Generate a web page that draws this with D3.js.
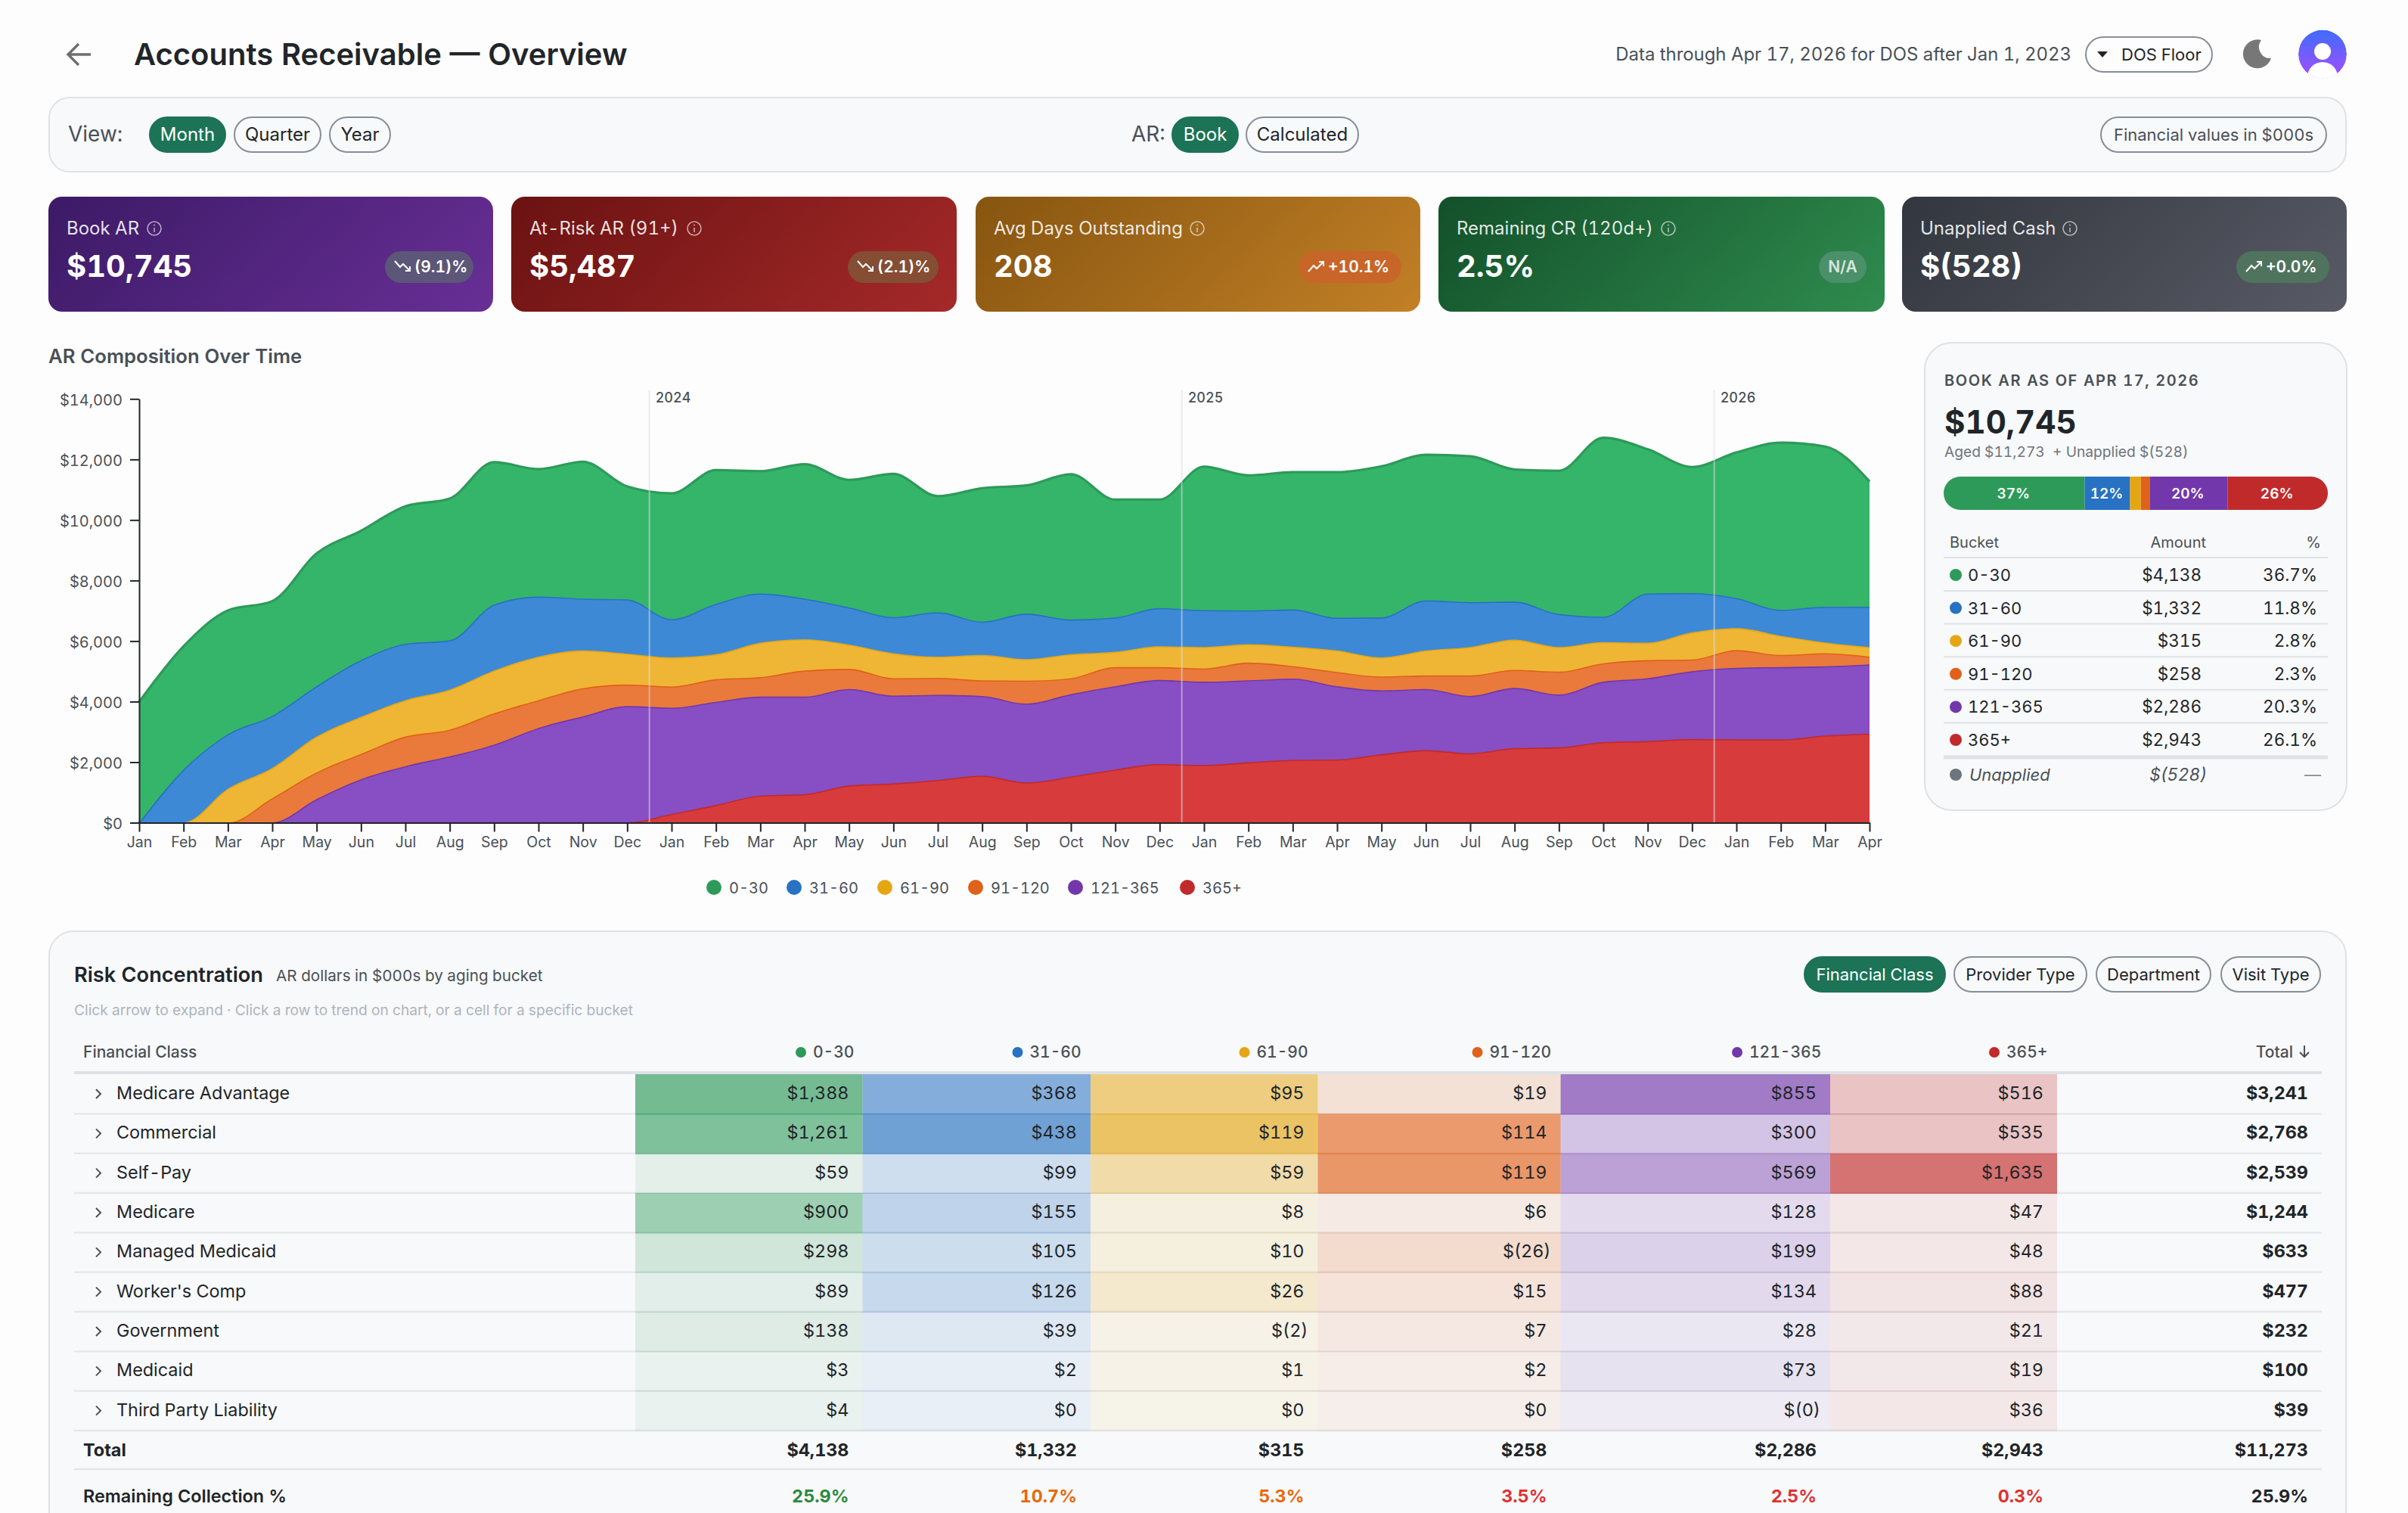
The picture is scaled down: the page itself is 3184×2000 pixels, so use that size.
<!DOCTYPE html>
<html>
<head>
<meta charset="utf-8">
<title>Accounts Receivable — Overview</title>
<script src="https://cdn.jsdelivr.net/npm/d3@7"></script>
<style>
  html, body { margin: 0; padding: 0; background: #fdfdfd; overflow: hidden; }
  svg { display: block; font-family: Inter, "Noto Sans", sans-serif; font-variant-numeric: tabular-nums; }
</style>
</head>
<body>
<div id="viz"></div>
<script>
// ---- data, $000s ----
const months = ['Jan','Feb','Mar','Apr','May','Jun','Jul','Aug','Sep','Oct','Nov','Dec',
  'Jan','Feb','Mar','Apr','May','Jun','Jul','Aug','Sep','Oct','Nov','Dec',
  'Jan','Feb','Mar','Apr','May','Jun','Jul','Aug','Sep','Oct','Nov','Dec',
  'Jan','Feb','Mar','Apr'];
const buckets = ['0-30','31-60','61-90','91-120','121-365','365+'];
const ar0to30 = [3994,4074,4085,3787,4384,4269,4545,4682,4705,4212,4522,3730,4154,4418,4040,4441,4212,4728,3833,4407,4235,4797,3890,3581,4740,4464,4533,4808,4992,4808,4820,4361,4728,5910,4763,4166,4808,5520,5290,4138];
const ar31to60 = [0,1744,1802,1721,1664,1871,1859,1630,2180,1985,1710,1790,1262,1664,1630,1343,1228,1194,1469,1102,1503,1148,1136,1262,1216,1113,1228,1079,1320,1653,1480,1262,1090,838,1630,1297,998,861,1182,1332];
const ar61to90 = [0,10,1125,998,1182,1228,1205,1320,1412,1434,1251,1021,964,826,1136,1033,803,826,700,838,712,792,505,689,712,608,643,712,631,826,941,998,815,700,574,895,723,631,356,315];
const ar91to120 = [0,0,0,803,884,838,975,884,1033,918,930,712,700,746,643,861,666,574,562,516,757,528,631,425,436,585,413,471,459,448,677,597,757,608,597,390,585,402,436,258];
const ar121to365 = [0,0,0,10,780,1434,1871,2192,2582,3133,3512,3844,3512,3408,3271,3225,3190,2903,2812,2639,2605,2720,2754,2777,2754,2708,2685,2421,2112,2020,1894,1985,1744,1997,2077,2238,2364,2387,2284,2286];
const ar365plus = [0,0,0,0,0,0,0,0,0,0,0,10,287,585,895,941,1228,1297,1412,1549,1331,1526,1756,1939,1905,1997,2077,2089,2261,2398,2295,2467,2490,2662,2697,2766,2754,2754,2880,2943];
const yTicks = [0,2000,4000,6000,8000,10000,12000,14000];
const yearMarks = ['2024','2025','2026'];

const snapshotAmounts = [4138,1332,315,258,2286,2943];
const snapshotPct = ['36.7%','11.8%','2.8%','2.3%','20.3%','26.1%'];
const snapshotBarLabels = ['37%','12%','','','20%','26%'];

const kpiLabels = ['Book AR','At-Risk AR (91+)','Avg Days Outstanding','Remaining CR (120d+)','Unapplied Cash'];
const kpiValues = ['$10,745','$5,487','208','2.5%','$(528)'];
const kpiDeltas = ['(9.1)%','(2.1)%','+10.1%','N/A','+0.0%'];
const kpiTrends = ['down','down','up','','up'];

const payers = ['Medicare Advantage','Commercial','Self-Pay','Medicare','Managed Medicaid',"Worker's Comp",'Government','Medicaid','Third Party Liability'];
const cells0to30 = [1388,1261,59,900,298,89,138,3,4];
const cells31to60 = [368,438,99,155,105,126,39,2,0];
const cells61to90 = [95,119,59,8,10,26,-2,1,0];
const cells91to120 = [19,114,119,6,-26,15,7,2,0];
const cells121to365 = [855,300,569,128,199,134,28,73,-0.3];
const cells365plus = [516,535,1635,47,48,88,21,19,36];
const payerTotals = [3241,2768,2539,1244,633,477,232,100,39];
const bucketTotals = [4138,1332,315,258,2286,2943];
const grandTotal = 11273;
const remainingPct = ['25.9%','10.7%','5.3%','3.5%','2.5%','0.3%'];
const remainingTotal = '25.9%';

// ---- styles ----
const lineColors = ['#2d9a5a','#2772c2','#e5a614','#e0611a','#7238ab','#c12a2a'];
const fillColors = ['#35b56a','#3d89d6','#efb635','#ea7a3b','#884ec3','#d83b3b'];
const remainingColors = ['#2b8a3e','#e8690c','#e8690c','#e03131','#e03131','#e03131'];
const kpiGradients = [['#3c1a66','#682f96'],['#6b1212','#a52929'],['#875510','#c28026'],['#13502a','#2f8c4e'],['#32363e','#585b65']];
const kpiBadges = ['#5c5678','#854d33','#c86528','#4a9068','#50735d'];
const INK = '#212529', GREY = '#495057', RULE = '#dee2e6', PANEL = '#f8f9fa', GREEN = '#1c7355';

const svg = d3.select('#viz').append('svg').attr('width', 3184).attr('height', 2000);
const defs = svg.append('defs');
svg.append('rect').attr('width', 3184).attr('height', 2000).attr('fill', '#fdfdfd');

function txt(x, y, s, o) {
  o = o || {};
  const t = (o.parent || svg).append('text')
    .attr('x', x).attr('y', y)
    .attr('font-size', o.size || 23.4)
    .attr('font-weight', o.weight || 400)
    .attr('fill', o.fill || INK)
    .attr('text-anchor', o.anchor || 'start')
    .text(s);
  if (o.ls) t.attr('letter-spacing', o.ls);
  if (o.italic) t.attr('font-style', 'italic');
  return t;
}

function pill(x0, x1, y0, y1, label, active, textFill, size) {
  svg.append('rect')
    .attr('x', x0 + 1).attr('y', y0 + 1)
    .attr('width', x1 - x0 - 2).attr('height', y1 - y0 - 2)
    .attr('rx', (y1 - y0) / 2 - 1)
    .attr('fill', active ? GREEN : 'none')
    .attr('stroke', active ? GREEN : '#868e96')
    .attr('stroke-width', 2);
  if (label) txt((x0 + x1) / 2, (y0 + y1) / 2 + 8, label, { size: size || 24, fill: active ? '#fff' : (textFill || INK), anchor: 'middle' });
}

function infoIcon(cx, cy) {
  const g = svg.append('g').attr('opacity', 0.6);
  g.append('circle').attr('cx', cx).attr('cy', cy).attr('r', 9).attr('fill', 'none').attr('stroke', '#fff').attr('stroke-width', 1.6);
  g.append('line').attr('x1', cx).attr('x2', cx).attr('y1', cy - 1).attr('y2', cy + 5).attr('stroke', '#fff').attr('stroke-width', 1.6);
  g.append('circle').attr('cx', cx).attr('cy', cy - 4.5).attr('r', 1).attr('fill', '#fff');
}

function trendIcon(x, y, dir) {
  const sign = dir === 'up' ? -1 : 1;
  svg.append('path')
    .attr('d', `M${x} ${y - sign * 7}L${x + 7} ${y + sign * 1}L${x + 11} ${y - sign * 3}L${x + 20} ${y + sign * 6}M${x + 14} ${y + sign * 6}H${x + 20}V${y}`)
    .attr('fill', 'none').attr('stroke', '#fff').attr('stroke-width', 2);
}

// ---- header ----
svg.append('path')
  .attr('d', 'M120 72H90M104 58L90 72L104 86')
  .attr('fill', 'none').attr('stroke', '#6e6e6e').attr('stroke-width', 3.4);
txt(177, 86, 'Accounts Receivable — Overview', { size: 40, weight: 600 });
txt(2739, 80, 'Data through Apr 17, 2026 for DOS after Jan 1, 2023', { size: 23.9, fill: GREY, anchor: 'end' });
pill(2757, 2926, 48, 96, '', false);
svg.append('path').attr('d', 'M2773 68H2787L2780 76Z').attr('fill', INK);
txt(2805, 80, 'DOS Floor', { size: 22 });
svg.append('path').attr('d', 'M2990 53A19 19 0 1 0 3003 77A15 15 0 0 1 2990 53Z').attr('fill', '#777');

const avatarGrad = defs.append('linearGradient').attr('id', 'avatar').attr('x1', 0).attr('y1', 0).attr('x2', 0).attr('y2', 1);
avatarGrad.append('stop').attr('offset', 0).attr('stop-color', '#3f6cff');
avatarGrad.append('stop').attr('offset', 1).attr('stop-color', '#a64dff');
defs.append('clipPath').attr('id', 'avatarClip').append('circle').attr('cx', 3071).attr('cy', 71.5).attr('r', 32);
const avatar = svg.append('g').attr('clip-path', 'url(#avatarClip)');
avatar.append('circle').attr('cx', 3071).attr('cy', 71.5).attr('r', 32).attr('fill', 'url(#avatar)');
avatar.append('circle').attr('cx', 3071).attr('cy', 68).attr('r', 11).attr('fill', '#fff');
avatar.append('circle').attr('cx', 3071).attr('cy', 102).attr('r', 20).attr('fill', '#fff');

// ---- filter bar ----
svg.append('rect').attr('x', 65).attr('y', 129).attr('width', 3037).attr('height', 98).attr('rx', 27)
  .attr('fill', PANEL).attr('stroke', RULE).attr('stroke-width', 2);
txt(90, 187, 'View:', { size: 28, fill: GREY });
pill(197, 299, 154, 202, 'Month', true);
pill(309, 425, 154, 202, 'Quarter', false);
pill(435, 517, 154, 202, 'Year', false);
txt(1496, 187, 'AR:', { size: 28, fill: GREY });
pill(1549, 1638, 154, 202, 'Book', true);
pill(1647, 1797, 154, 202, 'Calculated', false);
pill(2777, 3077, 154, 202, 'Financial values in $000s', false, GREY, 22);

// ---- kpi cards ----
const kpiEdges = [[64, 652], [676, 1265], [1290, 1878], [1902, 2492], [2515, 3103]];
const badgeEdges = [[509, 626], [1121, 1241], [1717, 1853], [2405, 2468], [2957, 3080]];
const infoX = [204, 918, 1583, 2206, 2737];
kpiLabels.forEach((label, i) => {
  const [x0, x1] = kpiEdges[i];
  const w = x1 - x0, h = 152;
  const half = (w + h) / 4; // css 135deg gradient line
  const g = defs.append('linearGradient').attr('id', 'kpi' + i).attr('gradientUnits', 'userSpaceOnUse')
    .attr('x1', x0 + w / 2 - half).attr('y1', 260 + h / 2 - half)
    .attr('x2', x0 + w / 2 + half).attr('y2', 260 + h / 2 + half);
  g.append('stop').attr('offset', 0).attr('stop-color', kpiGradients[i][0]);
  g.append('stop').attr('offset', 1).attr('stop-color', kpiGradients[i][1]);
  svg.append('rect').attr('x', x0).attr('y', 260).attr('width', w).attr('height', h).attr('rx', 18).attr('fill', `url(#kpi${i})`);
  txt(x0 + 24, 310, label, { size: 24, fill: 'rgba(255,255,255,0.88)' });
  infoIcon(infoX[i], 302);
  txt(x0 + 24, 366, kpiValues[i], { size: 40, weight: 700, fill: '#fff' });
  const [b0, b1] = badgeEdges[i];
  svg.append('rect').attr('x', b0).attr('y', 332).attr('width', b1 - b0).attr('height', 42).attr('rx', 21).attr('fill', kpiBadges[i]);
  if (kpiTrends[i]) {
    trendIcon(b0 + 13, 352, kpiTrends[i]);
    txt(b0 + 39, 360, kpiDeltas[i], { size: 21, weight: 600, fill: '#fff' });
  } else {
    txt((b0 + b1) / 2, 360, kpiDeltas[i], { size: 21, weight: 600, fill: 'rgba(255,255,255,0.8)', anchor: 'middle' });
  }
});

// ---- stacked area ----
txt(64, 480, 'AR Composition Over Time', { size: 25.7, weight: 600, fill: GREY });

const x = d3.scaleLinear().domain([0, months.length - 1]).range([184, 2472]);
const y = d3.scaleLinear().domain([0, 14000]).range([1087.5, 527.3]);

const rows = months.map((m, i) => ({
  '0-30': ar0to30[i], '31-60': ar31to60[i], '61-90': ar61to90[i],
  '91-120': ar91to120[i], '121-365': ar121to365[i], '365+': ar365plus[i]
}));
const stack = d3.stack().keys(buckets.slice().reverse());
const area = d3.area().x((d, i) => x(i)).y0(d => y(d[0])).y1(d => y(d[1])).curve(d3.curveMonotoneX);
const topLine = d3.line().x((d, i) => x(i)).y(d => y(d[1])).curve(d3.curveMonotoneX);

const layers = svg.append('g').selectAll('g').data(stack(rows)).join('g');
layers.append('path').attr('d', area).attr('fill', d => fillColors[buckets.indexOf(d.key)]);
layers.append('path').attr('d', topLine).attr('fill', 'none')
  .attr('stroke', d => lineColors[buckets.indexOf(d.key)]).attr('stroke-width', 3.2);

yearMarks.forEach((yr, i) => {
  const rx = x(11.5 + i * 12);
  svg.append('line').attr('x1', rx).attr('x2', rx).attr('y1', 516).attr('y2', 1087)
    .attr('stroke', '#dcdce6').attr('stroke-opacity', 0.55).attr('stroke-width', 2);
  txt(rx + 8, 532, yr, { size: 18, weight: 500, fill: GREY });
});

const yAxis = svg.append('g').attr('transform', 'translate(184,0)')
  .call(d3.axisLeft(y).tickValues(yTicks).tickSize(12).tickPadding(10).tickSizeOuter(0).tickFormat(d => '$' + d3.format(',')(d)));
const xAxis = svg.append('g').attr('transform', 'translate(0,1087.5)')
  .call(d3.axisBottom(x).tickValues(d3.range(months.length)).tickSize(12).tickPadding(7).tickSizeOuter(0).tickFormat(i => months[i]));
[yAxis, xAxis].forEach(a => {
  a.selectAll('path,line').attr('stroke', INK).attr('stroke-width', 2);
  a.selectAll('text').attr('fill', GREY).attr('font-family', 'Inter');
});
yAxis.selectAll('text').attr('font-size', 20).attr('dy', '0.42em');
xAxis.selectAll('text').attr('font-size', 19.5);

const legendDotX = [944, 1050, 1170, 1290, 1422, 1570];
buckets.forEach((b, i) => {
  svg.append('circle').attr('cx', legendDotX[i]).attr('cy', 1173).attr('r', 10).attr('fill', lineColors[i]);
  txt(legendDotX[i] + 20, 1181, b, { size: 20, fill: GREY });
});

// ---- snapshot card ----
svg.append('rect').attr('x', 2545).attr('y', 453).attr('width', 558).attr('height', 618).attr('rx', 36)
  .attr('fill', PANEL).attr('stroke', RULE).attr('stroke-width', 2);
txt(2571, 510, 'BOOK AR AS OF APR 17, 2026', { size: 20, weight: 600, fill: GREY, ls: 1.6 });
txt(2571, 572.5, '$10,745', { size: 42, weight: 700 });
txt(2571, 604, 'Aged $11,273  + Unapplied $(528)', { size: 19.2, fill: '#6c757d' }).style('white-space', 'pre');

const barX = d3.scaleLinear().domain([0, d3.sum(snapshotAmounts)]).range([2570, 3078]);
defs.append('clipPath').attr('id', 'barClip').append('rect').attr('x', 2570).attr('y', 630).attr('width', 508).attr('height', 44).attr('rx', 22);
const barSegs = d3.cumsum(snapshotAmounts);
const bar = svg.append('g').attr('clip-path', 'url(#barClip)');
bar.selectAll('rect').data(snapshotAmounts).join('rect')
  .attr('x', (d, i) => barX(barSegs[i] - d)).attr('width', d => barX(d) - barX(0))
  .attr('y', 630).attr('height', 44)
  .attr('fill', (d, i) => lineColors[i]);
snapshotAmounts.forEach((d, i) => {
  if (snapshotBarLabels[i]) txt(barX(barSegs[i] - d / 2) - 1, 659, snapshotBarLabels[i], { size: 19, weight: 600, fill: '#fff', anchor: 'middle' });
});

txt(2578, 724, 'Bucket', { size: 20, fill: GREY });
txt(2917, 724, 'Amount', { size: 20, fill: GREY, anchor: 'end' });
txt(3069, 724, '%', { size: 20, fill: GREY, anchor: 'end' });
const sideRule = (yy, w) => svg.append('line').attr('x1', 2570).attr('x2', 3078).attr('y1', yy).attr('y2', yy).attr('stroke', RULE).attr('stroke-width', w);
sideRule(737, 2);
const sideY = d3.scaleLinear().domain([0, 5]).range([768, 986]);
buckets.forEach((b, i) => {
  const by = sideY(i);
  svg.append('circle').attr('cx', 2586).attr('cy', by - 8).attr('r', 8).attr('fill', lineColors[i]);
  txt(2602, by, b, { size: 22 });
  txt(2911, by, '$' + d3.format(',')(snapshotAmounts[i]), { size: 22.5, anchor: 'end' });
  txt(3064, by, snapshotPct[i], { size: 22.5, anchor: 'end' });
  if (i < 5) sideRule(by + 13, 2);
});
sideRule(1001, 5);
svg.append('circle').attr('cx', 2586).attr('cy', 1024).attr('r', 8).attr('fill', '#6c757d');
txt(2604, 1032, 'Unapplied', { size: 22, fill: GREY, italic: true });
txt(2918, 1032, '$(528)', { size: 22.5, fill: GREY, italic: true, anchor: 'end' });
txt(3069, 1032, '—', { size: 22, fill: '#868e96', anchor: 'end' });

// ---- risk concentration ----
svg.append('rect').attr('x', 65).attr('y', 1231).attr('width', 3037).attr('height', 900).attr('rx', 32)
  .attr('fill', PANEL).attr('stroke', RULE).attr('stroke-width', 2);
txt(98, 1298, 'Risk Concentration', { size: 27.2, weight: 600 });
txt(365, 1297, 'AR dollars in $000s by aging bucket', { size: 20.7, fill: GREY });
txt(98, 1342, 'Click arrow to expand · Click a row to trend on chart, or a cell for a specific bucket', { size: 19.2, fill: '#adb5bd' });
pill(2385, 2573, 1264, 1312, 'Financial Class', true, null, 22);
pill(2583, 2760, 1264, 1312, 'Provider Type', false, null, 22);
pill(2771, 2924, 1264, 1312, 'Department', false, null, 22);
pill(2936, 3069, 1264, 1312, 'Visit Type', false, null, 22);

const colEdges = [840, 1140.5, 1442, 1742.5, 2063.5, 2420, 2720];
const headDotX = [1059, 1345.5, 1645.5, 1953.5, 2297, 2637];
const cellColumns = [cells0to30, cells31to60, cells61to90, cells91to120, cells121to365, cells365plus];
const rowY = d3.scaleLinear().domain([0, payers.length]).range([1420, 1891]);
const fmt = v => v < 0 ? `$(${Math.abs(Math.round(v))})` : '$' + d3.format(',')(v);
const valueX = (right, s) => s.endsWith(')') ? right + 5 : right;

txt(110, 1398, 'Financial Class', { size: 21, weight: 500, fill: GREY });
buckets.forEach((b, i) => {
  svg.append('circle').attr('cx', headDotX[i]).attr('cy', 1391).attr('r', 7).attr('fill', lineColors[i]);
  txt(headDotX[i] + 16, 1398, b, { size: 21, weight: 500, fill: GREY });
});
txt(3032, 1398, 'Total', { size: 21, weight: 500, fill: GREY, anchor: 'end' });
svg.append('path').attr('d', 'M3047 1382V1397M3041 1391L3047 1397L3053 1391').attr('fill', 'none').attr('stroke', GREY).attr('stroke-width', 2);

const hRule = (yy, w, c) => svg.append('line').attr('x1', 98).attr('x2', 3070).attr('y1', yy).attr('y2', yy).attr('stroke', c).attr('stroke-width', w);
payers.forEach((p, r) => hRule(rowY(r + 1), 2.4, '#e4e7ea'));
hRule(1942, 2.4, '#e4e7ea');

cellColumns.forEach((col, c) => {
  const alpha = d3.scaleLinear().domain([0, d3.max(col, Math.abs)]).range([0.07, 0.65]);
  svg.append('g').selectAll('rect').data(col).join('rect')
    .attr('x', colEdges[c]).attr('width', colEdges[c + 1] - colEdges[c])
    .attr('y', (d, r) => rowY(r)).attr('height', (d, r) => rowY(r + 1) - rowY(r) + 1)
    .attr('fill', lineColors[c]).attr('fill-opacity', d => alpha(Math.abs(d)));
  col.forEach((v, r) => {
    const s = fmt(v);
    txt(valueX(colEdges[c + 1] - 18, s), rowY(r) + 33, s, { anchor: 'end' });
  });
  txt(colEdges[c + 1] - 18, 1925, fmt(bucketTotals[c]), { weight: 700, anchor: 'end' });
  txt(colEdges[c + 1] - 18, 1986, remainingPct[c], { weight: 700, fill: remainingColors[c], anchor: 'end' });
});
hRule(1418, 4, RULE);

payers.forEach((p, r) => {
  const cy = rowY(r) + 26;
  svg.append('path').attr('d', `M127 ${cy - 6}L133 ${cy}L127 ${cy + 6}`).attr('fill', 'none').attr('stroke', GREY).attr('stroke-width', 2);
  txt(154, rowY(r) + 33, p);
  txt(3052, rowY(r) + 33, fmt(payerTotals[r]), { weight: 700, anchor: 'end' });
});
txt(110, 1925, 'Total', { weight: 700 });
txt(3052, 1925, fmt(grandTotal), { weight: 700, anchor: 'end' });
txt(110, 1986, 'Remaining Collection %', { weight: 600 });
txt(3052, 1986, remainingTotal, { weight: 700, anchor: 'end' });
</script>
</body>
</html>
